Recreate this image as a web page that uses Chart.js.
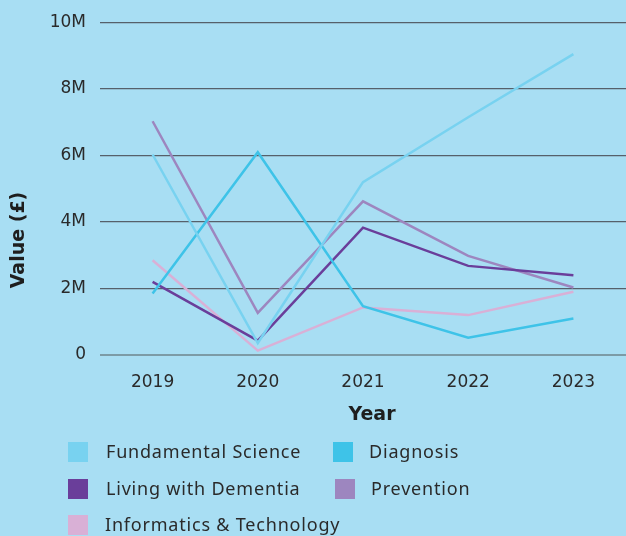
<!DOCTYPE html>
<html>
<head>
<meta charset="utf-8">
<script src="https://cdn.jsdelivr.net/npm/chart.js@4"></script>
<style>
    html, body { margin: 0; padding: 0; }
    body {
        width: 626px;
        height: 536px;
        background: #a8def3;
        position: relative;
        overflow: hidden;
        font-family: "Noto Sans", sans-serif;
    }
    #wrap { position: absolute; left: 0; top: 0; width: 626px; height: 440px; }
    #legend { position: absolute; left: 0; top: 0; width: 626px; height: 536px; pointer-events: none; }
    .item { position: absolute; height: 20px; }
    .item .box { position: absolute; left: 0; top: 0; width: 20px; height: 20px; }
    .item .txt {
        position: absolute;
        top: -1px;
        white-space: nowrap;
        font-size: 18px;
        letter-spacing: 0.8px;
        color: #2a2a2a;
        line-height: 20px;
    }
</style>
</head>
<body>
<div id="wrap"><canvas id="funding-chart" width="626" height="440"></canvas></div>
<div id="legend"></div>
<script>
// Años y valores de financiación por área (en millones de libras)
const years = ['2019', '2020', '2021', '2022', '2023'];
const fundamentalScience = [6.03, 0.36, 5.2, 7.15, 9.05];
const diagnosis = [1.85, 6.1, 1.47, 0.52, 1.1];
const livingWithDementia = [2.2, 0.43, 3.83, 2.68, 2.4];
const prevention = [7.03, 1.27, 4.62, 2.98, 2.03];
const informatics = [2.85, 0.13, 1.43, 1.2, 1.9];
const yTicks = [0, 2, 4, 6, 8, 10];

const series = [
    { label: 'Fundamental Science', data: fundamentalScience, color: '#78d2f0' },
    { label: 'Diagnosis', data: diagnosis, color: '#3ec3e8' },
    { label: 'Living with Dementia', data: livingWithDementia, color: '#6a3e9a' },
    { label: 'Prevention', data: prevention, color: '#9d86bf' },
    { label: 'Informatics & Technology', data: informatics, color: '#d9b0d6' }
];

// Leyenda en HTML, en dos columnas
const legendPos = [
    { x: 68, y: 442, tx: 38 },
    { x: 333, y: 442, tx: 36 },
    { x: 68, y: 479, tx: 38 },
    { x: 335, y: 479, tx: 36 },
    { x: 68, y: 515, tx: 37 }
];
const legend = document.getElementById('legend');
series.forEach((s, i) => {
    const item = document.createElement('div');
    item.className = 'item';
    item.style.left = legendPos[i].x + 'px';
    item.style.top = legendPos[i].y + 'px';
    const box = document.createElement('div');
    box.className = 'box';
    box.style.background = s.color;
    const txt = document.createElement('div');
    txt.className = 'txt';
    txt.style.left = legendPos[i].tx + 'px';
    txt.textContent = s.label;
    item.appendChild(box);
    item.appendChild(txt);
    legend.appendChild(item);
});

// Títulos de los ejes dibujados a mano
const axisTitles = {
    id: 'axisTitles',
    afterDraw(chart) {
        const c = chart.ctx;
        c.save();
        c.fillStyle = '#1e1e1e';
        c.font = 'bold 19px "DejaVu Sans"';
        c.textAlign = 'center';
        c.textBaseline = 'middle';
        c.fillText('Year', 372, 415);
        c.translate(19, 240);
        c.rotate(-Math.PI / 2);
        c.fillText('Value (£)', 0, 0);
        c.restore();
    }
};

const ctx = document.getElementById('funding-chart').getContext('2d');
new Chart(ctx, {
    type: 'line',
    data: {
        labels: years,
        datasets: series.map(s => ({
            label: s.label,
            data: s.data,
            borderColor: s.color,
            backgroundColor: s.color,
            borderWidth: 2.5,
            pointRadius: 0,
            tension: 0,
            fill: false
        }))
    },
    options: {
        responsive: false,
        animation: false,
        layout: { padding: { top: 21, right: 0, bottom: 0, left: 0 } },
        plugins: {
            legend: { display: false },
            tooltip: { enabled: false }
        },
        scales: {
            x: {
                offset: true,
                grid: { display: false, drawTicks: false },
                border: { display: false },
                ticks: {
                    color: '#2a2a2a',
                    font: { family: 'DejaVu Sans', size: 17 },
                    padding: 17,
                    maxRotation: 0
                },
                afterFit: scale => { scale.height = 85; }
            },
            y: {
                min: 0,
                max: 10,
                afterBuildTicks: scale => {
                    scale.ticks = yTicks.map(v => ({ value: v }));
                },
                grid: {
                    drawTicks: false,
                    color: ctx => ctx.tick && ctx.tick.value === 0 ? '#7c9ba6' : '#56606a',
                    lineWidth: ctx => ctx.tick && ctx.tick.value === 0 ? 2 : 1.2
                },
                border: { display: false },
                ticks: {
                    color: '#2a2a2a',
                    font: { family: 'DejaVu Sans', size: 17, lineHeight: 1 },
                    padding: 14,
                    callback: v => v === 0 ? '0' : v + 'M'
                },
                afterFit: scale => { scale.width = 100; }
            }
        }
    },
    plugins: [axisTitles]
});
</script>
</body>
</html>
